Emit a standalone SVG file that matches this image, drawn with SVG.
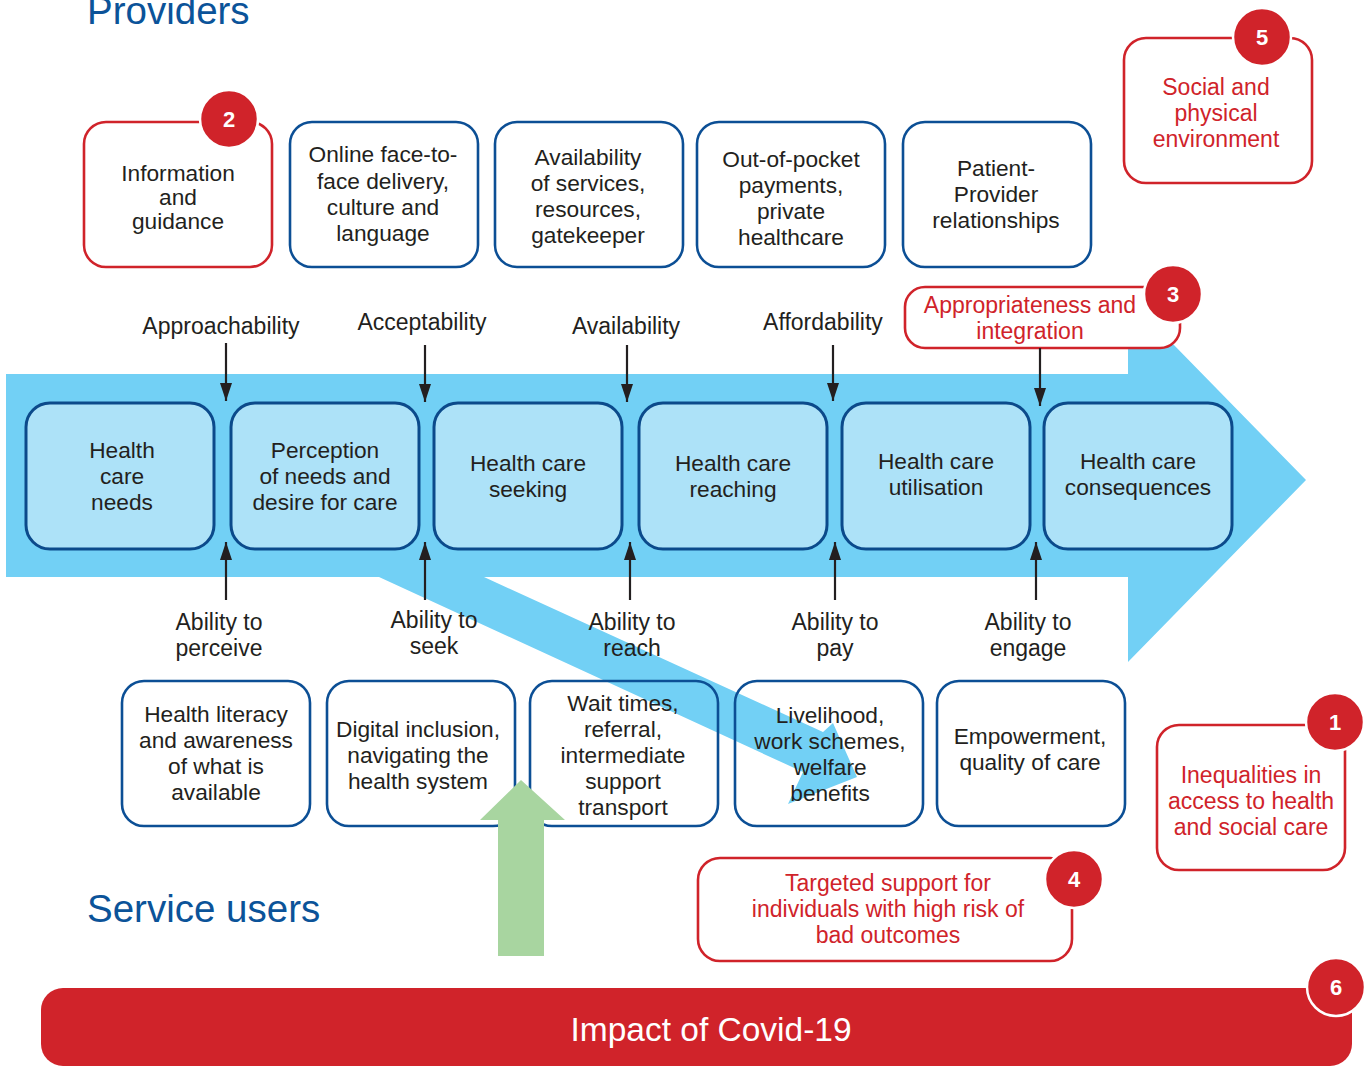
<svg xmlns="http://www.w3.org/2000/svg" width="1368" height="1066" viewBox="0 0 1368 1066">
<defs>
<style>
text{font-family:"Liberation Sans",Arial,sans-serif;text-anchor:middle}
.t{font-size:22.7px;fill:#231f20}
.r{font-size:23px;fill:#d0232a}
.lbl{font-size:23px;fill:#231f20}
.title{font-size:38.5px;fill:#0b5399;text-anchor:start}
.num{font-size:22px;font-weight:bold;fill:#fff}
.pbox{fill:#fff;stroke:#0c4f95;stroke-width:2.6}
.ubox{fill:none;stroke:#0c4f95;stroke-width:2.6}
.mbox{fill:#ade2f8;stroke:#0b4a8b;stroke-width:3}
.rbox{fill:#fff;stroke:#d0232a;stroke-width:2.6}
.badge{fill:#d0232a;stroke:#fff;stroke-width:2.5}
.conn{stroke:#231f20;stroke-width:2.2;fill:none}
</style>
<marker id="ah" viewBox="0 0 18 12" refX="18" refY="6" markerWidth="18" markerHeight="12" markerUnits="userSpaceOnUse" orient="auto">
<path d="M0,0 L18,6 L0,12 z" fill="#231f20"/>
</marker>
</defs>

<g id="flow-arrow">
<polygon points="6,374 1128,374 1128,298 1306,480 1128,662 1128,577 484,577 823,732 833,723 857,777 788,804 803,772 379,577 6,577" fill="#72d0f5"/>
</g>

<text class="title" x="87" y="24">Providers</text>
<text class="title" x="87" y="922">Service users</text>

<g id="provider-nodes">
<g id="p-info">
<rect class="rbox" x="84" y="122" width="188" height="145" rx="22"/>
<text class="t" x="178" y="181">Information</text>
<text class="t" x="178" y="205">and</text>
<text class="t" x="178" y="229">guidance</text>
<circle class="badge" cx="229" cy="119" r="29"/>
<text class="num" x="229" y="127">2</text>
</g>
<g id="p-online">
<rect class="pbox" x="290" y="122" width="188" height="145" rx="22"/>
<text class="t" x="383" y="162">Online face-to-</text>
<text class="t" x="383" y="189">face delivery,</text>
<text class="t" x="383" y="215">culture and</text>
<text class="t" x="383" y="241">language</text>
</g>
<g id="p-avail">
<rect class="pbox" x="495" y="122" width="188" height="145" rx="22"/>
<text class="t" x="588" y="165">Availability</text>
<text class="t" x="588" y="191">of services,</text>
<text class="t" x="588" y="217">resources,</text>
<text class="t" x="588" y="243">gatekeeper</text>
</g>
<g id="p-oop">
<rect class="pbox" x="697" y="122" width="188" height="145" rx="22"/>
<text class="t" x="791" y="167">Out-of-pocket</text>
<text class="t" x="791" y="193">payments,</text>
<text class="t" x="791" y="219">private</text>
<text class="t" x="791" y="245">healthcare</text>
</g>
<g id="p-rel">
<rect class="pbox" x="903" y="122" width="188" height="145" rx="22"/>
<text class="t" x="996" y="176">Patient-</text>
<text class="t" x="996" y="202">Provider</text>
<text class="t" x="996" y="228">relationships</text>
</g>
<g id="p-social">
<rect class="rbox" x="1124" y="38" width="188" height="145" rx="22"/>
<text class="r" x="1216" y="95">Social and</text>
<text class="r" x="1216" y="121">physical</text>
<text class="r" x="1216" y="147">environment</text>
<circle class="badge" cx="1262" cy="37" r="29"/>
<text class="num" x="1262" y="45">5</text>
</g>
<g id="p-approp">
<rect class="rbox" x="905" y="287" width="275" height="61" rx="20"/>
<text class="r" x="1030" y="313">Appropriateness and</text>
<text class="r" x="1030" y="339">integration</text>
<circle class="badge" cx="1173" cy="294" r="29"/>
<text class="num" x="1173" y="302">3</text>
</g>
</g>

<g id="stage-nodes">
<g id="s-needs">
<rect class="mbox" x="26" y="403" width="188" height="146" rx="24"/>
<text class="t" x="122" y="458">Health</text>
<text class="t" x="122" y="484">care</text>
<text class="t" x="122" y="510">needs</text>
</g>
<g id="s-perception">
<rect class="mbox" x="231" y="403" width="188" height="146" rx="24"/>
<text class="t" x="325" y="458">Perception</text>
<text class="t" x="325" y="484">of needs and</text>
<text class="t" x="325" y="510">desire for care</text>
</g>
<g id="s-seeking">
<rect class="mbox" x="434" y="403" width="188" height="146" rx="24"/>
<text class="t" x="528" y="471">Health care</text>
<text class="t" x="528" y="497">seeking</text>
</g>
<g id="s-reaching">
<rect class="mbox" x="639" y="403" width="188" height="146" rx="24"/>
<text class="t" x="733" y="471">Health care</text>
<text class="t" x="733" y="497">reaching</text>
</g>
<g id="s-util">
<rect class="mbox" x="842" y="403" width="188" height="146" rx="24"/>
<text class="t" x="936" y="469">Health care</text>
<text class="t" x="936" y="495">utilisation</text>
</g>
<g id="s-conseq">
<rect class="mbox" x="1044" y="403" width="188" height="146" rx="24"/>
<text class="t" x="1138" y="469">Health care</text>
<text class="t" x="1138" y="495">consequences</text>
</g>
</g>

<g id="labels">
<text class="lbl" x="221" y="334">Approachability</text>
<text class="lbl" x="422" y="330">Acceptability</text>
<text class="lbl" x="626" y="334">Availability</text>
<text class="lbl" x="823" y="330">Affordability</text>
<text class="lbl" x="219" y="630">Ability to</text>
<text class="lbl" x="219" y="656">perceive</text>
<text class="lbl" x="434" y="628">Ability to</text>
<text class="lbl" x="434" y="654">seek</text>
<text class="lbl" x="632" y="630">Ability to</text>
<text class="lbl" x="632" y="656">reach</text>
<text class="lbl" x="835" y="630">Ability to</text>
<text class="lbl" x="835" y="656">pay</text>
<text class="lbl" x="1028" y="630">Ability to</text>
<text class="lbl" x="1028" y="656">engage</text>
</g>

<g id="connectors">
<line class="conn" x1="226" y1="343" x2="226" y2="401" marker-end="url(#ah)"/>
<line class="conn" x1="425" y1="345" x2="425" y2="402" marker-end="url(#ah)"/>
<line class="conn" x1="627" y1="345" x2="627" y2="402" marker-end="url(#ah)"/>
<line class="conn" x1="833" y1="345" x2="833" y2="401" marker-end="url(#ah)"/>
<line class="conn" x1="1040" y1="348" x2="1040" y2="406" marker-end="url(#ah)"/>
<line class="conn" x1="226" y1="600" x2="226" y2="542" marker-end="url(#ah)"/>
<line class="conn" x1="425" y1="600" x2="425" y2="542" marker-end="url(#ah)"/>
<line class="conn" x1="630" y1="600" x2="630" y2="542" marker-end="url(#ah)"/>
<line class="conn" x1="835" y1="600" x2="835" y2="542" marker-end="url(#ah)"/>
<line class="conn" x1="1036" y1="600" x2="1036" y2="542" marker-end="url(#ah)"/>
</g>

<g id="user-nodes">
<g id="u-literacy">
<rect class="ubox" x="122" y="681" width="188" height="145" rx="22"/>
<text class="t" x="216" y="722">Health literacy</text>
<text class="t" x="216" y="748">and awareness</text>
<text class="t" x="216" y="774">of what is</text>
<text class="t" x="216" y="800">available</text>
</g>
<g id="u-digital">
<rect class="ubox" x="327" y="681" width="188" height="145" rx="22"/>
<text class="t" x="418" y="737">Digital inclusion,</text>
<text class="t" x="418" y="763">navigating the</text>
<text class="t" x="418" y="789">health system</text>
</g>
<g id="u-wait">
<rect class="ubox" x="530" y="681" width="188" height="145" rx="22"/>
<text class="t" x="623" y="711">Wait times,</text>
<text class="t" x="623" y="737">referral,</text>
<text class="t" x="623" y="763">intermediate</text>
<text class="t" x="623" y="789">support</text>
<text class="t" x="623" y="815">transport</text>
</g>
<g id="u-livelihood">
<rect class="ubox" x="735" y="681" width="188" height="145" rx="22"/>
<text class="t" x="830" y="723">Livelihood,</text>
<text class="t" x="830" y="749">work schemes,</text>
<text class="t" x="830" y="775">welfare</text>
<text class="t" x="830" y="801">benefits</text>
</g>
<g id="u-empower">
<rect class="ubox" x="937" y="681" width="188" height="145" rx="22"/>
<text class="t" x="1030" y="744">Empowerment,</text>
<text class="t" x="1030" y="770">quality of care</text>
</g>
<g id="u-inequal">
<rect class="rbox" x="1157" y="725" width="188" height="145" rx="22"/>
<text class="r" x="1251" y="783">Inequalities in</text>
<text class="r" x="1251" y="809">access to health</text>
<text class="r" x="1251" y="835">and social care</text>
<circle class="badge" cx="1335" cy="722" r="29"/>
<text class="num" x="1335" y="730">1</text>
</g>
<g id="u-targeted">
<rect class="rbox" x="698" y="858" width="374" height="103" rx="22"/>
<text class="r" x="888" y="891">Targeted support for</text>
<text class="r" x="888" y="917">individuals with high risk of</text>
<text class="r" x="888" y="943">bad outcomes</text>
<circle class="badge" cx="1074" cy="879" r="29"/>
<text class="num" x="1074" y="887">4</text>
</g>
</g>

<g id="green-arrow">
<polygon points="498,956 498,820 480,820 521,780 565,820 544,820 544,956" fill="#a8d5a0"/>
</g>

<g id="covid">
<rect x="41" y="988" width="1311" height="78" rx="22" fill="#d0232a"/>
<text x="711" y="1041" style="font-size:33.5px;fill:#fff">Impact of Covid-19</text>
<circle class="badge" cx="1336" cy="987" r="29"/>
<text class="num" x="1336" y="995">6</text>
</g>
</svg>
